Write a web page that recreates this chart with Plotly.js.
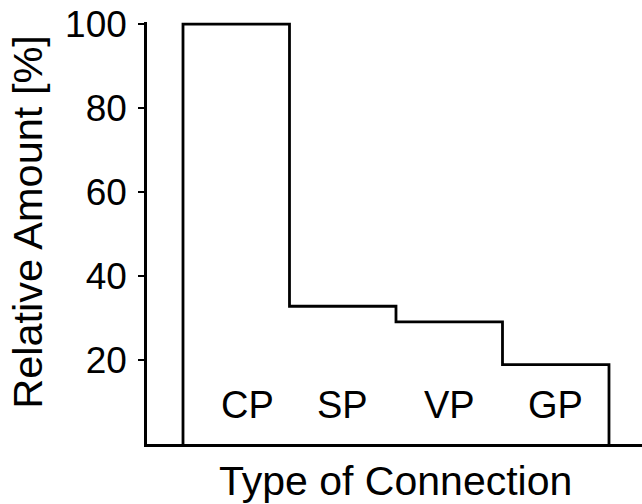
<!DOCTYPE html>
<html>
<head>
<meta charset="utf-8">
<script src="https://cdn.plot.ly/plotly-3.0.1.min.js"></script>
<style>html,body{margin:0;padding:0;background:#fff;}#chart{width:642px;height:504px;}</style>
</head>
<body>
<div id="chart"></div>
<script>
// Data
var categories = ['CP', 'SP', 'VP', 'GP'];
var values = [100, 32.8, 29.1, 18.9];
var yTickVals = [20, 40, 60, 80, 100];
var yTickText = ['20', '40', '60', '80', '100'];

// Build step outline from bin edges (bin i spans i..i+1)
var stepX = [0], stepY = [0];
for (var i = 0; i < values.length; i++) {
  stepX.push(i, i + 1);
  stepY.push(values[i], values[i]);
}
stepX.push(values.length);
stepY.push(0);

var font = 'Liberation Sans, Arial, Helvetica, sans-serif';

var trace = {
  x: stepX, y: stepY, type: 'scatter', mode: 'lines',
  line: {color: '#000', width: 2.8, shape: 'linear'},
  hoverinfo: 'skip', showlegend: false, cliponaxis: false
};

var labelY = 9.3;
var annotations = categories.map(function (c, i) {
  return {
    x: i + 0.5, y: labelY, xref: 'x', yref: 'y', text: c, showarrow: false,
    xshift: i === 0 ? 11 : 0,
    font: {family: font, size: 38, color: '#000'}
  };
});
annotations.push({
  text: 'Relative Amount [%]', textangle: -90, xref: 'paper', yref: 'paper',
  x: -0.242, y: 0.527, xanchor: 'center', yanchor: 'middle', showarrow: false,
  font: {family: font, size: 41.5, color: '#000'}
});
annotations.push({
  text: 'Type of Connection', xref: 'paper', yref: 'paper',
  x: 0.503, y: -0.087, xanchor: 'center', yanchor: 'middle', showarrow: false,
  font: {family: font, size: 41, color: '#000'}
});

var layout = {
  width: 642, height: 504,
  margin: {l: 147, r: 0, t: 22, b: 59.5, pad: 0},
  paper_bgcolor: '#fff', plot_bgcolor: '#fff',
  showlegend: false,
  xaxis: {
    range: [-0.338, 4.31], showgrid: false, zeroline: false,
    showline: true, linecolor: '#000', linewidth: 2.8,
    ticks: '', showticklabels: false, fixedrange: true
  },
  yaxis: {
    range: [0, 100.5], showgrid: false, zeroline: false,
    showline: true, linecolor: '#000', linewidth: 2.8,
    tickmode: 'array', tickvals: yTickVals, ticktext: yTickText,
    ticks: 'outside', ticklen: 6, tickwidth: 2, tickcolor: '#000',
    ticklabelstandoff: 4,
    tickfont: {family: font, size: 37, color: '#000'}, fixedrange: true
  },
  annotations: annotations
};

Plotly.newPlot('chart', [trace], layout, {displayModeBar: false, staticPlot: true});
</script>
</body>
</html>
